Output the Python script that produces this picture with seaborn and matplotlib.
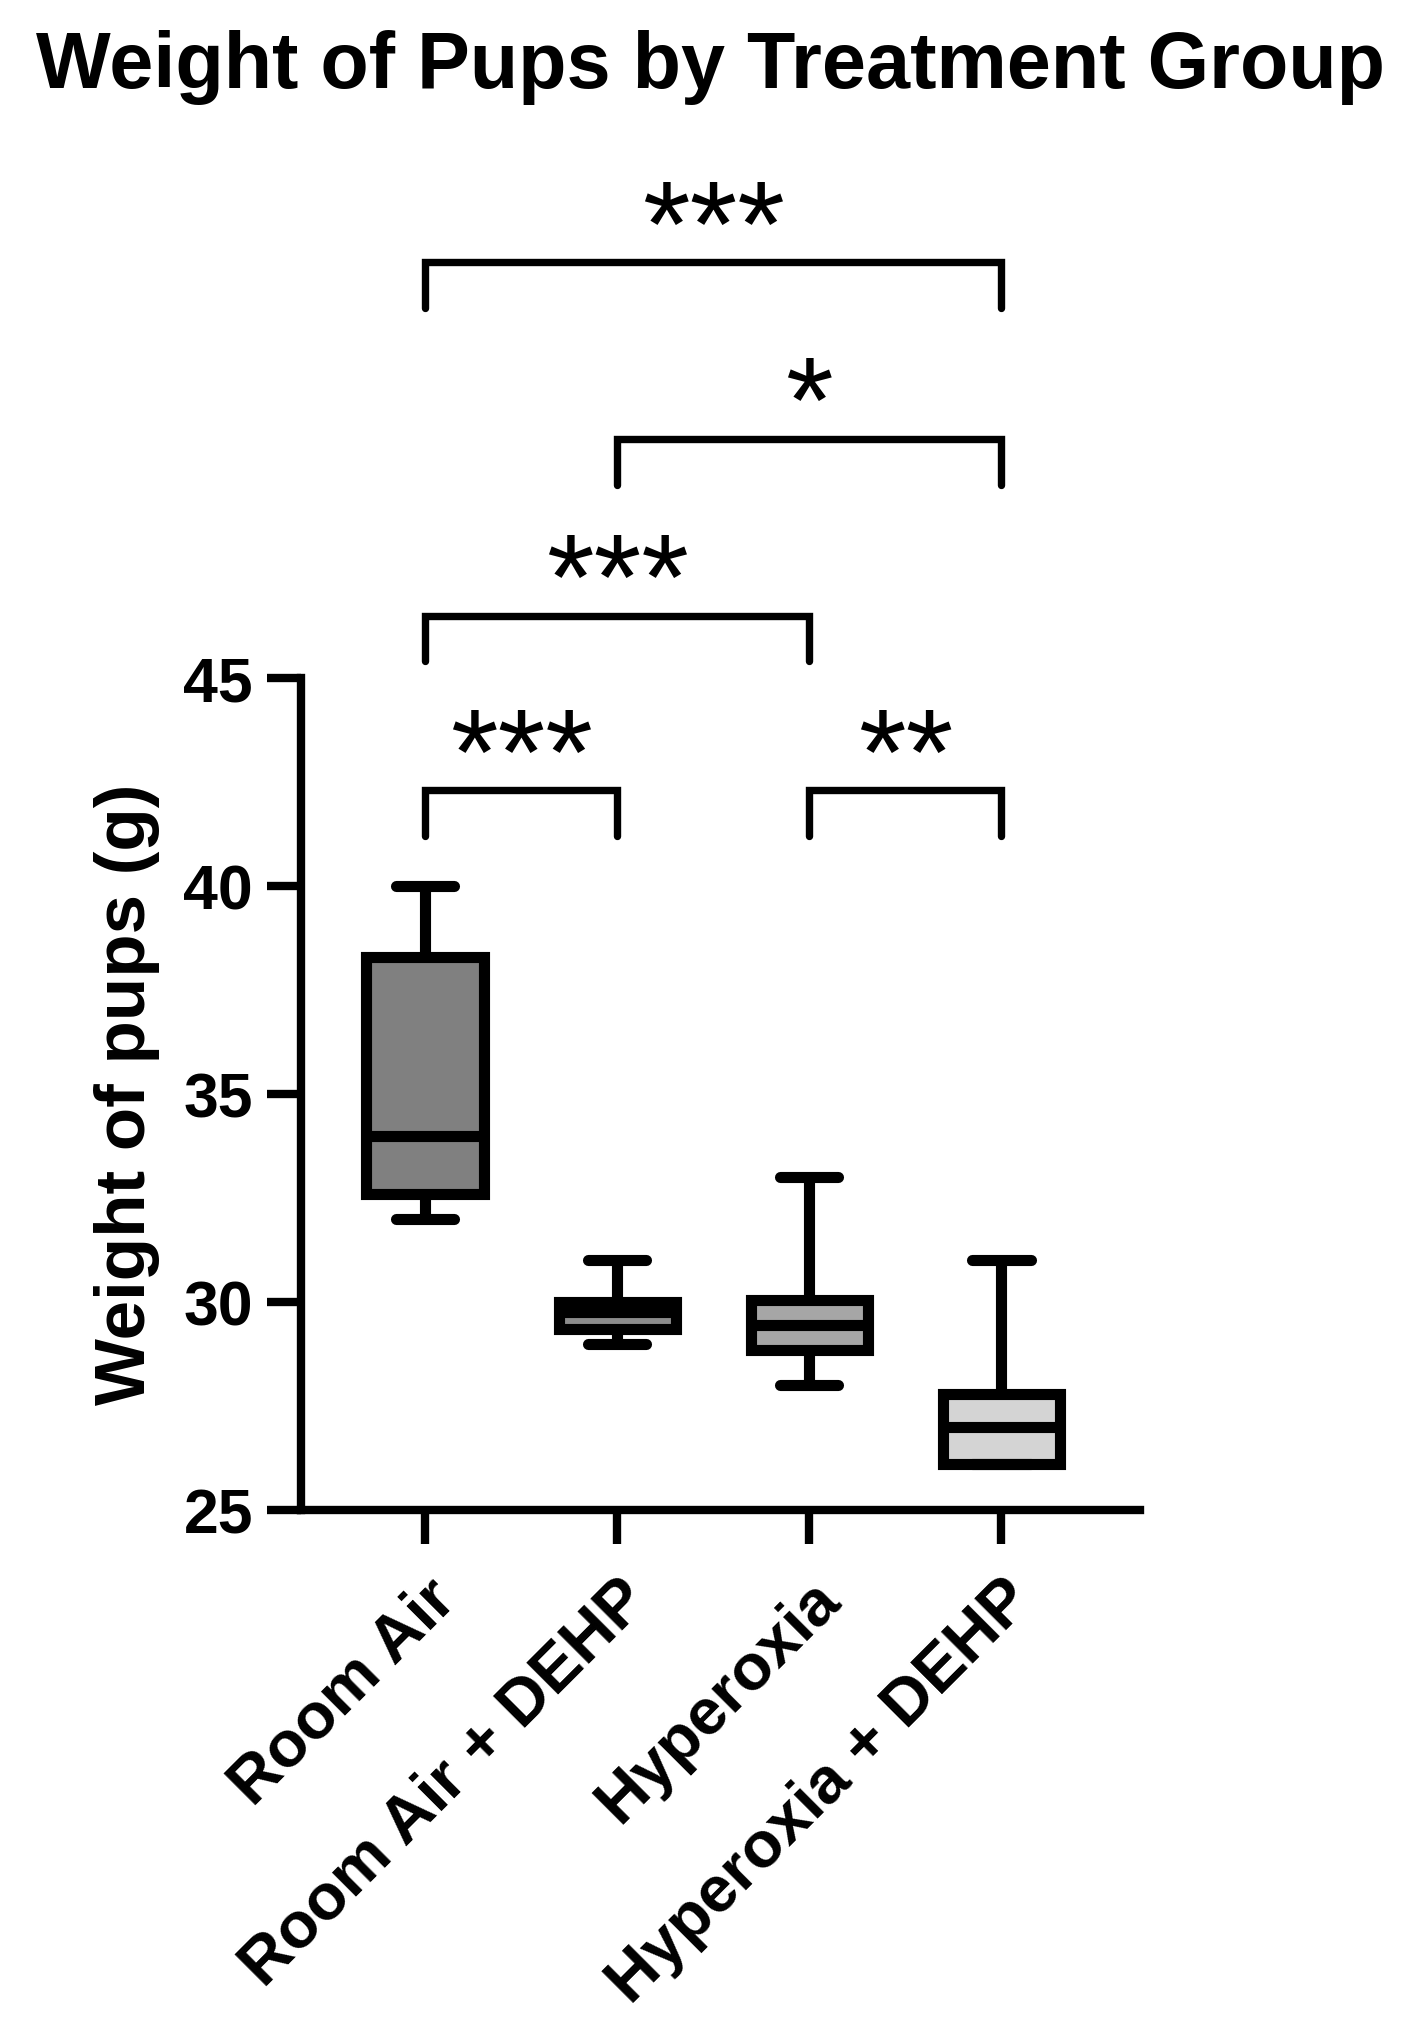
import numpy as np
import pandas as pd
import matplotlib
matplotlib.use("Agg")
import matplotlib.pyplot as plt
import seaborn as sns

# groups on the x axis
groups = ["Room Air", "Room Air + DEHP", "Hyperoxia", "Hyperoxia + DEHP"]

# five-number summaries: min, Q1, median, Q3, max (g)
room_air = [32.0, 32.6, 34.0, 38.3, 40.0]
room_air_dehp = [29.0, 29.35, 29.75, 30.0, 31.0]
hyperoxia = [28.0, 28.85, 29.45, 30.05, 33.0]
hyperoxia_dehp = [26.1, 26.1, 27.0, 27.8, 31.0]

box_colors = ["#808080", "#8c8c8c", "#a6a6a6", "#d4d4d4"]

# significance brackets: left group, right group, bar height, label
sig_left = [0, 1, 0, 0, 2]
sig_right = [3, 3, 2, 1, 3]
sig_height = [55.0, 50.75, 46.5, 42.3, 42.3]
sig_label = ["***", "*", "***", "***", "**"]

df = pd.DataFrame({
    "group": np.repeat(groups, 5),
    "weight": np.concatenate([room_air, room_air_dehp, hyperoxia, hyperoxia_dehp]),
})

sns.set_style("ticks")
plt.rcParams["font.family"] = ["Liberation Sans", "DejaVu Sans"]
plt.rcParams["text.color"] = "black"
plt.rcParams["axes.labelcolor"] = "black"
plt.rcParams["xtick.color"] = "black"
plt.rcParams["ytick.color"] = "black"

fig = plt.figure(figsize=(14.13, 20.34), dpi=100)
ax = fig.add_axes([0.213, 0.2576, 0.594, 0.409])

sns.boxplot(data=df, x="group", y="weight", hue="group", order=groups,
            hue_order=groups, palette=box_colors, saturation=1, width=0.61,
            whis=(0, 100), linewidth=8, linecolor="black", legend=False, ax=ax)

ax.set_xlim(-0.646, 3.724)
ax.set_ylim(25, 45)
ax.set_yticks([25, 30, 35, 40, 45])
ax.spines[["top", "right"]].set_visible(False)
for side in ["left", "bottom"]:
    ax.spines[side].set_linewidth(6)
    ax.spines[side].set_color("black")

ax.tick_params(axis="both", length=24.5, width=6, color="black",
               labelcolor="black", direction="out")
ax.tick_params(axis="y", labelsize=45, pad=10)
ax.tick_params(axis="x", labelsize=47, pad=18)
for lbl in ax.get_yticklabels():
    lbl.set_fontweight("bold")
ax.set_xticks(range(len(groups)))
ax.set_xticklabels(groups, rotation=45, ha="right", va="top",
                   rotation_mode="anchor", fontweight="bold", fontsize=47)

ax.set_xlabel("")
ax.set_ylabel("Weight of pups (g)", fontsize=51, fontweight="bold", color="black")
ax.yaxis.set_label_coords(-0.168, 0.5)

# significance brackets
for l, r, h, lab in zip(sig_left, sig_right, sig_height, sig_label):
    ax.plot([l, l, r, r], [h - 1.1, h, h, h - 1.1], color="black", lw=5.3,
            clip_on=False, solid_joinstyle="miter")
    ax.text((l + r) / 2, h - 0.08, lab, ha="center", va="baseline",
            fontsize=88, color="black", clip_on=False)

fig.text(0.503, 1 - 88 / 2034, "Weight of Pups by Treatment Group",
         ha="center", va="baseline", fontsize=57, fontweight="bold", color="black")

fig.savefig("out.png", dpi=100)
